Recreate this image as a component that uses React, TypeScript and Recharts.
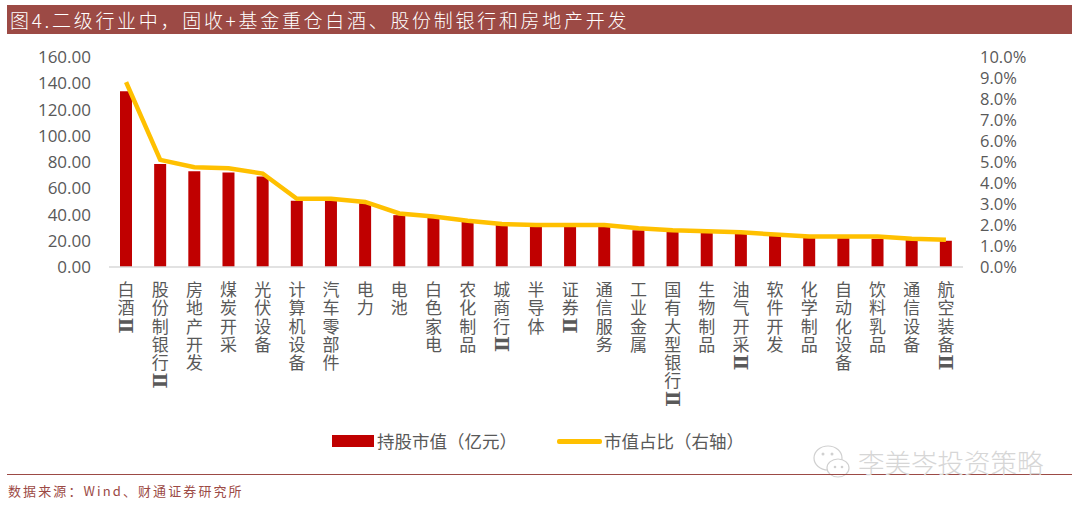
import { Bar, ComposedChart, Legend, Line, XAxis, YAxis } from 'recharts'

const categories = ['白酒Ⅱ', '股份制银行Ⅱ', '房地产开发', '煤炭开采', '光伏设备', '计算机设备', '汽车零部件', '电力', '电池', '白色家电', '农化制品', '城商行Ⅱ', '半导体', '证券Ⅱ', '通信服务', '工业金属', '国有大型银行Ⅱ', '生物制品', '油气开采Ⅱ', '软件开发', '化学制品', '自动化设备', '饮料乳品', '通信设备', '航空装备Ⅱ']
const marketValue = [134, 78.5, 73, 72, 69, 50.5, 50.5, 48.5, 39.5, 37.5, 35, 32, 31, 30.5, 30.5, 28, 27, 26, 25.5, 24, 22.5, 22, 21.5, 20.5, 20]
const marketShare = [0.088, 0.051, 0.0475, 0.047, 0.0445, 0.0325, 0.0325, 0.031, 0.0255, 0.024, 0.022, 0.0205, 0.02, 0.02, 0.02, 0.0185, 0.0175, 0.017, 0.0165, 0.0155, 0.0145, 0.0145, 0.0145, 0.0135, 0.013]
const leftTicks = [0, 20, 40, 60, 80, 100, 120, 140, 160]
const rightTicks = [0, 0.01, 0.02, 0.03, 0.04, 0.05, 0.06, 0.07, 0.08, 0.09, 0.1]

const chartData = categories.map((name, i) => ({ name, value: marketValue[i], share: marketShare[i] }))

const latin = '"Open Sans", "Noto Sans CJK SC", sans-serif'
const cjk = '"Noto Sans CJK SC", sans-serif'
const textColor = '#595959'
const brown = '#9c4a45'

// vertical label, the roman numeral is turned on its side like in the source
function VerticalTick({ x, y, payload }: any) {
  const label = String(payload.value)
  const hasTwo = label.endsWith('Ⅱ')
  const head = hasTwo ? label.slice(0, -1) : label
  const twoY = y + 11 + head.length * 18.3 + 9
  return (
    <g>
      <text
        x={x}
        y={y + 12}
        fontSize={17}
        fontFamily={cjk}
        fill={textColor}
        style={{ writingMode: 'vertical-rl', letterSpacing: 1.3 }}
      >
        {head}
      </text>
      {hasTwo && (
        <text
          x={x}
          y={twoY}
          textAnchor="middle"
          dominantBaseline="central"
          fontFamily='"DejaVu Serif", serif'
          fontSize={19}
          fontWeight={700}
          fill={textColor}
          transform={`rotate(90 ${x} ${twoY})`}
        >
          Ⅱ
        </text>
      )}
    </g>
  )
}

function LegendBox() {
  const label = { fontFamily: cjk, fontSize: 17.5, color: textColor, lineHeight: '24px' }
  return (
    <div style={{ position: 'relative', width: 1080, height: 24 }}>
      <div style={{ position: 'absolute', left: 332, top: 6, width: 42, height: 12, background: '#c00000' }} />
      <div style={{ ...label, position: 'absolute', left: 377, top: 0 }}>持股市值（亿元）</div>
      <div style={{ position: 'absolute', left: 557, top: 10, width: 45, height: 4.5, borderRadius: 2, background: '#ffc000' }} />
      <div style={{ ...label, position: 'absolute', left: 604, top: 0 }}>市值占比（右轴）</div>
    </div>
  )
}

export default function App() {
  return (
    <div style={{ position: 'absolute', left: 0, top: 0, width: 1080, height: 510, background: '#fff', overflow: 'hidden' }}>
      <div style={{ position: 'absolute', left: 7, top: 5, width: 1065, height: 29, background: brown }} />
      <div style={{ position: 'absolute', left: 10, top: 5, height: 29, lineHeight: '30px', fontFamily: cjk, fontSize: 19, letterSpacing: 2.7, color: '#fff', whiteSpace: 'nowrap', fontWeight: 300 }}>
        图4.二级行业中，固收+基金重仓白酒、股份制银行和房地产开发
      </div>

      <div style={{ position: 'absolute', left: 0, top: 0 }}>
        <ComposedChart width={1080} height={510} data={chartData} margin={{ top: 57, right: 0, bottom: 0, left: 0 }}>
          <XAxis
            dataKey="name"
            interval={0}
            height={219}
            tick={<VerticalTick />}
            tickLine={false}
            tickSize={0}
            axisLine={{ stroke: '#d9d9d9', strokeWidth: 1.5 }}
          />
          <YAxis
            yAxisId="left"
            width={109}
            domain={[0, 160]}
            ticks={leftTicks}
            interval={0}
            axisLine={false}
            tickLine={false}
            tickSize={0}
            tickMargin={18}
            tickFormatter={(v: number) => v.toFixed(2)}
            tick={{ fill: textColor, fontSize: 17, fontFamily: latin }}
          />
          <YAxis
            yAxisId="right"
            orientation="right"
            width={117}
            domain={[0, 0.1]}
            ticks={rightTicks}
            interval={0}
            axisLine={false}
            tickLine={false}
            tickSize={0}
            tickMargin={17}
            tickFormatter={(v: number) => (v * 100).toFixed(1) + '%'}
            tick={{ fill: textColor, fontSize: 16.5, fontFamily: latin }}
          />
          <Bar yAxisId="left" dataKey="value" name="持股市值（亿元）" fill="#c00000" barSize={12} isAnimationActive={false} />
          <Line yAxisId="right" dataKey="share" name="市值占比（右轴）" stroke="#ffc000" strokeWidth={4.5} dot={false} type="linear" isAnimationActive={false} />
          <Legend content={<LegendBox />} wrapperStyle={{ position: 'absolute', left: 0, top: 429, width: 1080, height: 24 }} />
        </ComposedChart>
      </div>

      <svg style={{ position: 'absolute', left: 810, top: 440 }} width={45} height={45}>
        <ellipse cx={18} cy={18} rx={14} ry={12} fill="#fff" stroke="#d0d0d0" strokeWidth={1.2} />
        <ellipse cx={28} cy={28} rx={11} ry={9} fill="#fff" stroke="#d0d0d0" strokeWidth={1.2} />
        <circle cx={13} cy={14} r={1.5} fill="#d0d0d0" />
        <circle cx={22} cy={14} r={1.5} fill="#d0d0d0" />
        <circle cx={25} cy={27} r={1.3} fill="#d0d0d0" />
        <circle cx={32} cy={27} r={1.3} fill="#d0d0d0" />
      </svg>
      <div style={{ position: 'absolute', left: 7, top: 473.5, width: 1065, height: 1.5, background: brown }} />
      <div style={{ position: 'absolute', left: 858, top: 444, fontFamily: cjk, fontSize: 26.5, lineHeight: '36px', color: '#d6d6d6', whiteSpace: 'nowrap', fontWeight: 300 }}>
        李美岑投资策略
      </div>
      <div style={{ position: 'absolute', left: 8, top: 482, fontFamily: cjk, fontSize: 13, lineHeight: '18px', letterSpacing: 2.1, color: brown, whiteSpace: 'nowrap' }}>
        数据来源：Wind、财通证券研究所
      </div>
    </div>
  )
}
